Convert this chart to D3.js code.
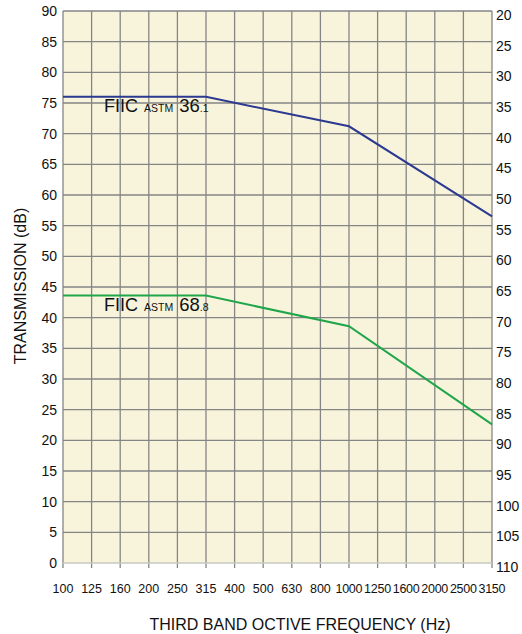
<!DOCTYPE html>
<html lang="en">
<head>
<meta charset="utf-8">
<title>Transmission chart</title>
<style>
  body { margin: 0; background: #fff; }
  text { font-family: "Liberation Sans", Arial, sans-serif; fill: #111; }
</style>
</head>
<body>
<svg id="chart"></svg>
<script src="https://cdnjs.cloudflare.com/ajax/libs/d3/7.8.5/d3.min.js"></script>
<script>
// frequency categories (Hz)
const freqs = ['100', '125', '160', '200', '250', '315', '400', '500', '630', '800',
               '1000', '1250', '1600', '2000', '2500', '3150'];
const leftTicks = d3.range(0, 95, 5);
const rightTicks = d3.range(20, 115, 5);

// series (dB)
const blueFreq = ['100', '315', '1000', '3150'];
const blueVals = [76, 76, 71.2, 56.5];
const greenFreq = ['100', '315', '1000', '3150'];
const greenVals = [43.6, 43.6, 38.6, 22.6];

const width = 522, height = 634;
const margin = { top: 11, right: 30, bottom: 71, left: 63 };

const svg = d3.select('#chart')
  .attr('width', width)
  .attr('height', height);

const x = d3.scalePoint()
  .domain(freqs)
  .range([margin.left, width - margin.right]);

const y = d3.scaleLinear()
  .domain([0, 90])
  .range([height - margin.bottom, margin.top]);

const y2 = d3.scaleLinear()
  .domain([110, 20])
  .range([height - margin.bottom, margin.top]);

// background
svg.append('rect')
  .attr('x', margin.left)
  .attr('y', margin.top)
  .attr('width', x.range()[1] - margin.left)
  .attr('height', y(0) - margin.top)
  .attr('fill', '#f8f4dc');

// grid
let grid = svg.append('g').attr('stroke', '#858585').attr('stroke-width', 1.3);
grid.selectAll('line.v')
  .data(freqs)
  .enter()
  .append('line')
  .attr('x1', d => x(d)).attr('x2', d => x(d))
  .attr('y1', margin.top).attr('y2', y(0) + 5);
grid.selectAll('line.h')
  .data(leftTicks.filter(d => d > 0))
  .enter()
  .append('line')
  .attr('x1', margin.left).attr('x2', x.range()[1])
  .attr('y1', d => y(d)).attr('y2', d => y(d));

svg.append('line')
  .attr('x1', margin.left).attr('x2', x.range()[1])
  .attr('y1', y(0)).attr('y2', y(0))
  .attr('stroke', '#c9c9c0').attr('stroke-width', 1.3);

// left axis labels
svg.append('g')
  .selectAll('text')
  .data(leftTicks)
  .enter()
  .append('text')
  .attr('x', margin.left - 6)
  .attr('y', d => y(d))
  .attr('dy', '0.36em')
  .attr('text-anchor', 'end')
  .style('font-size', '14px')
  .text(d => d);

// right axis labels
svg.append('g')
  .selectAll('text')
  .data(rightTicks)
  .enter()
  .append('text')
  .attr('x', x.range()[1] + 4)
  .attr('y', d => y2(d) + 4)
  .attr('dy', '0.36em')
  .style('font-size', '14px')
  .text(d => d);

// bottom labels
svg.append('g')
  .selectAll('text')
  .data(freqs)
  .enter()
  .append('text')
  .attr('x', d => x(d))
  .attr('y', y(0) + 30)
  .attr('text-anchor', 'middle')
  .style('font-size', '12.5px')
  .attr('textLength', d => d.length > 3 ? 27 : null)
  .text(d => d);

// titles
svg.append('text')
  .attr('x', 300)
  .attr('y', 630)
  .attr('text-anchor', 'middle')
  .style('font-size', '16px')
  .text('THIRD BAND OCTIVE FREQUENCY (Hz)');

svg.append('text')
  .attr('transform', 'translate(26, 286) rotate(-90)')
  .attr('text-anchor', 'middle')
  .style('font-size', '16px')
  .text('TRANSMISSION (dB)');

// lines
const line = d3.line()
  .x(d => x(d[0]))
  .y(d => y(d[1]));

svg.append('path')
  .attr('d', line(d3.zip(blueFreq, blueVals)))
  .attr('fill', 'none')
  .attr('stroke', '#2b3990')
  .attr('stroke-width', 2);

svg.append('path')
  .attr('d', line(d3.zip(greenFreq, greenVals)))
  .attr('fill', 'none')
  .attr('stroke', '#1fa64a')
  .attr('stroke-width', 2);

// series labels
function label(ypos, big, small) {
  let t = svg.append('text')
    .attr('x', 104)
    .attr('y', ypos);
  t.append('tspan').style('font-size', '18px').text('FIIC');
  t.append('tspan').attr('dx', 6).style('font-size', '10.5px').text('ASTM');
  t.append('tspan').attr('dx', 6).style('font-size', '18.5px').text(big);
  t.append('tspan').style('font-size', '10.5px').text(small);
}
label(112, '36', '.1');
label(311, '68', '.8');
</script>
</body>
</html>
